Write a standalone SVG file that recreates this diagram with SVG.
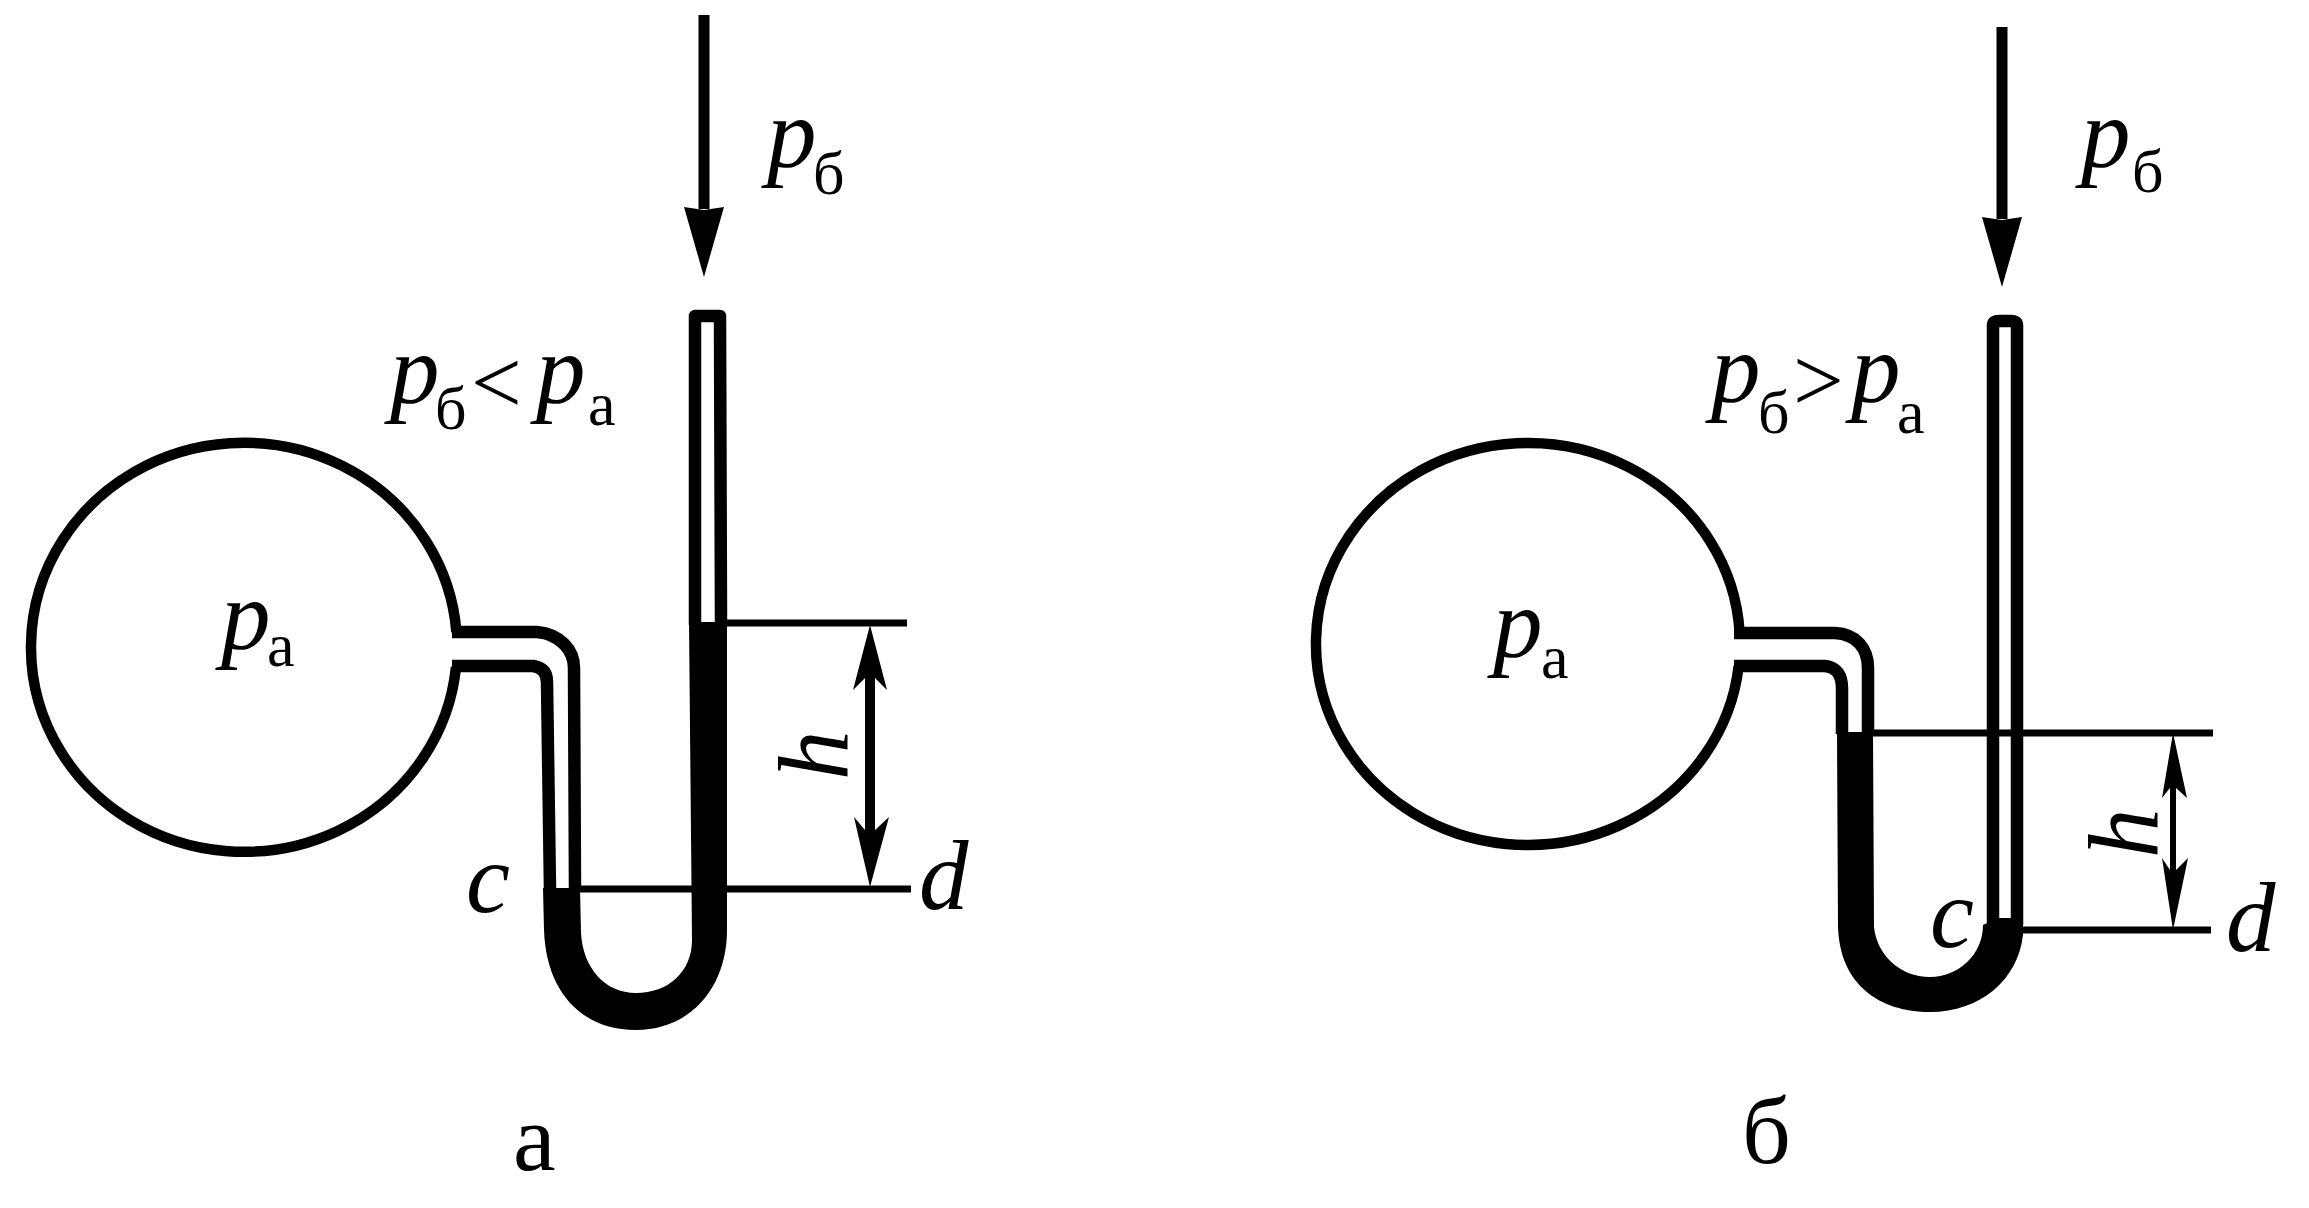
<svg xmlns="http://www.w3.org/2000/svg" width="2309" height="1208" viewBox="0 0 2309 1208">
<style>
text{font-family:"Liberation Serif","Times New Roman",serif;fill:#000}
.i{font-style:italic;font-size:99px}
.s{font-size:62px}
.o{font-size:90px}
.cap{font-size:96px}
.w{fill:none;stroke:#000;stroke-width:12.5;stroke-linejoin:round}
.b{fill:none;stroke:#000;stroke-width:10.5}
.m{fill:#000;stroke:none}
.l{fill:none;stroke:#000;stroke-width:7}
.ar{fill:none;stroke:#000;stroke-width:11}
.d{fill:#000;stroke:none}
</style>
<defs>
<marker id="head" markerUnits="userSpaceOnUse" viewBox="0 -21 72 42" markerWidth="72" markerHeight="42" refX="2" refY="0" orient="auto"><polygon points="0,-20 70,0 0,20 3,0" fill="#000"/></marker>
</defs>
<rect width="2309" height="1208" fill="#fff"/>
<g id="connectors">
<line class="ar" x1="704" y1="15" x2="704" y2="209" marker-end="url(#head)"/>
<line class="l" x1="726" y1="623" x2="907" y2="623"/>
<line class="l" x1="576" y1="889" x2="692" y2="889"/>
<line class="l" x1="726" y1="889" x2="911" y2="889"/>
<polygon class="d" points="870,625 887,690 875,678 875,830 889,817 870,887 854,817 865,830 865,678 853,690"/>
<line class="ar" x1="2002" y1="27" x2="2002" y2="219" marker-end="url(#head)"/>
<line class="l" x1="1871" y1="733" x2="2213" y2="733"/>
<line class="l" x1="2020" y1="930" x2="2211" y2="930"/>
<polygon class="d" points="2173,733 2187,798 2176,788 2176,870 2188,858 2173,930 2162,858 2170,870 2170,788 2162,798"/>
</g>
<g id="bulb-a"><path class="b" d="M456.4,632 A213,204.5 0 1 0 456,667"/></g>
<g id="manometer-a">
<path class="w" d="M452,632 L537,632 C560,634 574,650 574,668 L575,890"/>
<path class="w" d="M452,666 L533,666 Q547,668 547,682 L550,890"/>
<path class="w" d="M695,625 L695,316 L720,316 L721,625"/>
<path class="m" d="M543,888 L580,888 L581,933 C583,968 605,993 636,993 C668,993 692,972 692,940 L689,622 L727,622 L727,930 C727,988 690,1030 636,1030 C580,1030 546,990 544,930 Z"/>
</g>
<g id="bulb-b"><path class="b" d="M1739.6,632 A212,201 0 1 0 1738.7,666"/></g>
<g id="manometer-b">
<path class="w" d="M1734,633 L1835,633 C1856,634 1868,648 1868,668 L1868,734"/>
<path class="w" d="M1734,666 L1825,666 Q1842,668 1842,688 L1842,734"/>
<path class="w" d="M1993,925 L1993,325 Q1993,321 1999,321 L2011,321 Q2017,321 2017,325 L2017,925"/>
<path class="m" d="M1837,732 L1873,732 L1874,927 C1877,955 1900,977 1930,977 C1958,977 1983,955 1983,925 L1998,918 L2012,918 L2023,918 L2023,935 C2018,980 1980,1012 1930,1012 C1880,1012 1840,985 1838,927 Z"/>
</g>
<g id="label-a">
<text><tspan class="i" x="767" y="167">p</tspan><tspan class="s" x="813" y="194">б</tspan></text>
<text><tspan class="i" x="390" y="403">p</tspan><tspan class="s" x="435" y="429">б</tspan><tspan class="o" x="471" y="413">&lt;</tspan><tspan class="i" x="536" y="403">p</tspan><tspan class="s" x="588" y="425">а</tspan></text>
<text><tspan class="i" x="221" y="649">p</tspan><tspan class="s" x="267" y="666">а</tspan></text>
<text class="i" x="466" y="912">c</text>
<text class="i" x="919" y="909">d</text>
<text class="i" transform="translate(847 780) rotate(-90)">h</text>
<text class="cap" x="513" y="1170">а</text>
</g>
<g id="label-b">
<text><tspan class="i" x="2081" y="167">p</tspan><tspan class="s" x="2132" y="192">б</tspan></text>
<text><tspan class="i" x="1711" y="402">p</tspan><tspan class="s" x="1758" y="433">б</tspan><tspan class="o" x="1793" y="411">&gt;</tspan><tspan class="i" x="1851" y="402">p</tspan><tspan class="s" x="1897" y="433">а</tspan></text>
<text><tspan class="i" x="1493" y="657">p</tspan><tspan class="s" x="1541" y="678">а</tspan></text>
<text class="i" x="1930" y="947">c</text>
<text class="i" x="2226" y="951">d</text>
<text class="i" transform="translate(2157 858) rotate(-90)">h</text>
<text class="cap" x="1742" y="1163">б</text>
</g>
</svg>
